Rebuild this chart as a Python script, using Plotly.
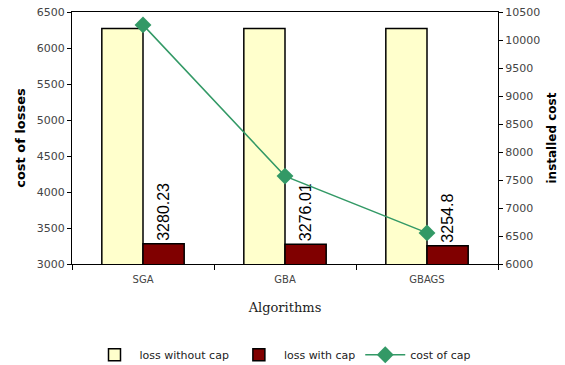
import plotly.graph_objects as go

# Algorithms compared
algorithms = ["SGA", "GBA", "GBAGS"]

# Cost of losses (left axis)
loss_without_cap = [6270, 6270, 6270]
loss_with_cap = [3280.23, 3276.01, 3254.8]

# Installed cost of capacitors (right axis)
cost_of_cap = [10270, 7570, 6555]

tick_font = dict(family="DejaVu Sans", size=11, color="#444444")

fig = go.Figure()

fig.add_trace(go.Bar(
    x=algorithms, y=loss_without_cap, name="loss without cap",
    marker=dict(color="#FFFFCC", line=dict(color="black", width=1.5)),
))
fig.add_trace(go.Bar(
    x=algorithms, y=loss_with_cap, name="loss with cap",
    marker=dict(color="#800000", line=dict(color="black", width=1.5)),
    text=[str(v) for v in loss_with_cap], texttemplate="%{text}",
    textposition="outside", textangle=-90,
    textfont=dict(family="Liberation Sans", size=16, color="black"),
    cliponaxis=False, constraintext="none",
))
fig.add_trace(go.Scatter(
    x=algorithms, y=cost_of_cap, name="cost of cap", yaxis="y2",
    mode="lines+markers",
    line=dict(color="#339966", width=1.5),
    marker=dict(symbol="diamond", size=13, color="#339966"),
    cliponaxis=False,
))

fig.update_layout(
    width=565, height=365,
    margin=dict(l=72, r=67, t=12, b=101),
    paper_bgcolor="white", plot_bgcolor="white",
    barmode="group", bargap=0.42, bargroupgap=0,
    showlegend=True,
    legend=dict(orientation="h", x=0.5, xanchor="center", xref="container",
                y=0.028, yanchor="middle", yref="container",
                font=dict(family="DejaVu Sans", size=11, color="#222222"),
                itemwidth=40, traceorder="normal"),
    xaxis=dict(
        title=dict(text="Algorithms", font=dict(family="DejaVu Serif", size=13, color="#222222"), standoff=18),
        tickfont=dict(family="DejaVu Sans", size=10, color="#444444"), ticklabelstandoff=6,
        showline=True, linecolor="black", linewidth=1,
        mirror=True, ticks="outside", tickson="boundaries", ticklen=5, tickcolor="black",
        showgrid=False, automargin=False,
    ),
    yaxis=dict(
        title=dict(text="<b>cost of losses</b>", font=dict(family="DejaVu Sans", size=13, color="black"), standoff=8),
        range=[3000, 6500], dtick=500, tickfont=tick_font,
        showline=True, linecolor="black", linewidth=1, ticks="outside", ticklen=4,
        tickcolor="black", showgrid=False, zeroline=False, automargin=False,
    ),
    yaxis2=dict(
        title=dict(text="<b>installed cost</b>", font=dict(family="DejaVu Sans", size=12, color="black"), standoff=8),
        range=[6000, 10500], dtick=500, tickformat="d", overlaying="y", side="right", tickfont=tick_font,
        showline=True, linecolor="black", linewidth=1, ticks="outside", ticklen=4,
        tickcolor="black", showgrid=False, zeroline=False, automargin=False,
    ),
)

fig.write_html("out.html")
